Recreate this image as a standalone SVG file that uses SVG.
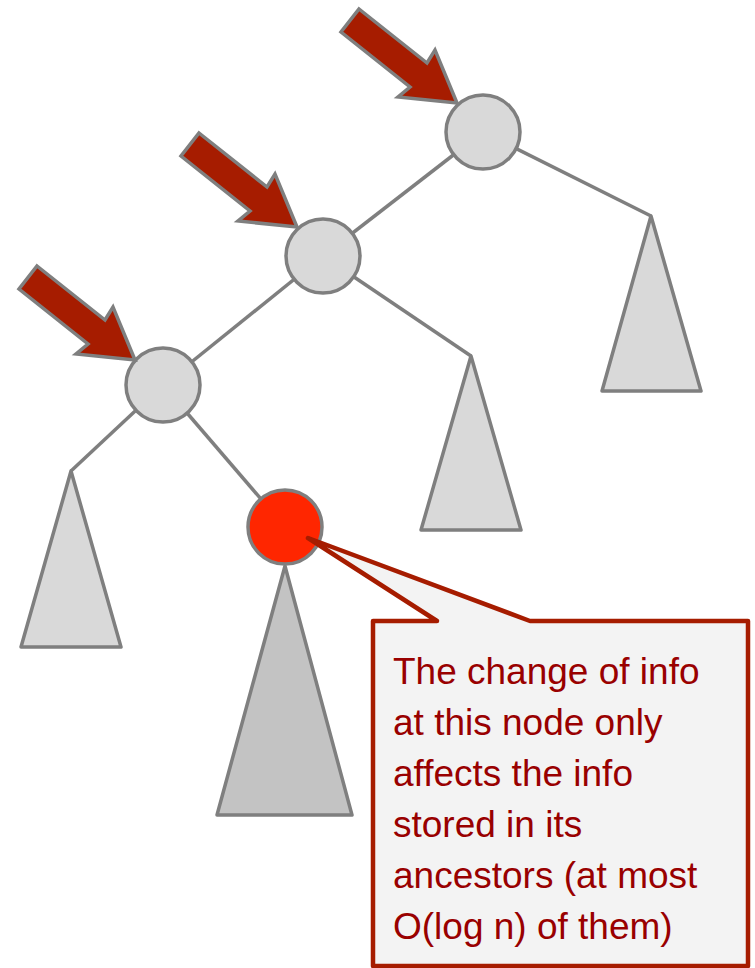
<svg xmlns="http://www.w3.org/2000/svg" width="755" height="968" viewBox="0 0 755 968">
<style>
.edge{stroke:#7f7f7f;stroke-width:3.5;fill:none}
.node{fill:#d9d9d9;stroke:#7f7f7f;stroke-width:3.5}
.tri{fill:#d9d9d9;stroke:#7f7f7f;stroke-width:3.5;stroke-linejoin:round}
.arrow{fill:#a61c00;stroke:#7f7f7f;stroke-width:3.5;stroke-linejoin:miter}
.txt{font-family:"Liberation Sans",Arial,sans-serif;font-size:37px;fill:#990000}
</style>
<defs>
<polygon id="arr" points="359,9 427,63 435,50 457,103 398,97 410,87 341,32"/>
</defs>
<rect width="755" height="968" fill="#ffffff"/>
<g id="connectors">
<line class="edge" x1="483" y1="132" x2="323" y2="256"/>
<line class="edge" x1="483" y1="132" x2="651" y2="216"/>
<line class="edge" x1="323" y1="256" x2="163" y2="385"/>
<line class="edge" x1="323" y1="256" x2="471" y2="356"/>
<line class="edge" x1="163" y1="385" x2="71" y2="471"/>
<line class="edge" x1="163" y1="385" x2="285" y2="527"/>
</g>
<g id="subtree-right"><polygon class="tri" points="651,216 701,391 602,391"/></g>
<g id="subtree-mid"><polygon class="tri" points="471,356 521,530 421,530"/></g>
<g id="subtree-left"><polygon class="tri" points="71,471 121,647 21,647"/></g>
<g id="subtree-red"><polygon class="tri" style="fill:#c3c3c3" points="285,566 352,815 217,815"/></g>
<g id="node-root"><circle class="node" cx="483" cy="132" r="37"/></g>
<g id="node-2"><circle class="node" cx="323" cy="256" r="37"/></g>
<g id="node-3"><circle class="node" cx="163" cy="385" r="37"/></g>
<g id="node-red"><circle class="node" style="fill:#ff2600" cx="285" cy="527" r="37"/></g>
<g id="arrows">
<use href="#arr" class="arrow"/>
<use href="#arr" class="arrow" transform="translate(-160,124)"/>
<use href="#arr" class="arrow" transform="translate(-322,257)"/>
</g>
<g id="callout">
<path d="M373,621 L437,621 L308,538 L530,621 L748,621 L748,966 L373,966 Z" fill="#f3f3f3" stroke="#a61c00" stroke-width="4.5" stroke-linejoin="round"/>
<text class="txt" x="393" y="684">The change of info</text>
<text class="txt" x="393" y="735">at this node only</text>
<text class="txt" x="393" y="786">affects the info</text>
<text class="txt" x="393" y="837">stored in its</text>
<text class="txt" x="393" y="888">ancestors (at most</text>
<text class="txt" x="393" y="939">O(log n) of them)</text>
</g>
</svg>
